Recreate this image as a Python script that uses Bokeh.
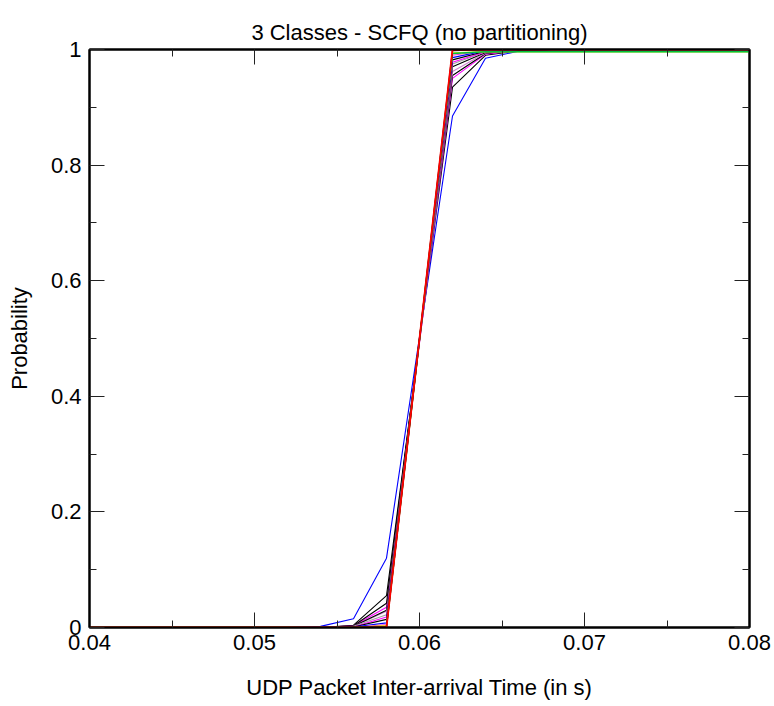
from bokeh.plotting import figure
from bokeh.models import LinearAxis, FixedTicker, Range1d
from bokeh.embed import file_html
from bokeh.resources import INLINE

# Shared x sample points (inter-arrival time in s)
x_vals = [0.040, 0.042, 0.044, 0.046, 0.048, 0.050, 0.052, 0.054, 0.056, 0.058,
          0.062, 0.064, 0.066, 0.068, 0.070, 0.072, 0.074, 0.076, 0.078, 0.080]

# CDF series (one per flow)
blue_a    = [0, 0, 0, 0, 0, 0, 0, 0.002, 0.015, 0.120, 0.885, 0.985, 0.997, 1, 1, 1, 1, 1, 1, 1]
black_a   = [0, 0, 0, 0, 0, 0, 0, 0.000, 0.004, 0.055, 0.935, 0.990, 0.998, 1, 1, 1, 1, 1, 1, 1]
magenta_a = [0, 0, 0, 0, 0, 0, 0, 0.000, 0.003, 0.035, 0.950, 0.992, 0.998, 1, 1, 1, 1, 1, 1, 1]
black_b   = [0, 0, 0, 0, 0, 0, 0, 0.000, 0.003, 0.042, 0.955, 0.993, 0.999, 1, 1, 1, 1, 1, 1, 1]
pink_a    = [0, 0, 0, 0, 0, 0, 0, 0.000, 0.002, 0.028, 0.962, 0.994, 0.999, 1, 1, 1, 1, 1, 1, 1]
black_c   = [0, 0, 0, 0, 0, 0, 0, 0.000, 0.002, 0.030, 0.970, 0.995, 0.999, 1, 1, 1, 1, 1, 1, 1]
gray_a    = [0, 0, 0, 0, 0, 0, 0, 0.000, 0.002, 0.022, 0.975, 0.996, 1.000, 1, 1, 1, 1, 1, 1, 1]
magenta_b = [0, 0, 0, 0, 0, 0, 0, 0.000, 0.001, 0.018, 0.978, 0.996, 1.000, 1, 1, 1, 1, 1, 1, 1]
black_d   = [0, 0, 0, 0, 0, 0, 0, 0.000, 0.001, 0.014, 0.982, 0.997, 1.000, 1, 1, 1, 1, 1, 1, 1]
blue_b    = [0, 0, 0, 0, 0, 0, 0, 0.000, 0.001, 0.008, 0.986, 0.998, 1.000, 1, 1, 1, 1, 1, 1, 1]
pink_b    = [0, 0, 0, 0, 0, 0, 0, 0.000, 0.000, 0.005, 0.990, 0.998, 1.000, 1, 1, 1, 1, 1, 1, 1]
yellow_a  = [0, 0, 0, 0, 0, 0, 0, 0.000, 0.000, 0.003, 0.994, 0.996, 0.996, 0.996, 0.996, 0.996, 0.996, 0.996, 0.996, 0.996]
green_a   = [0, 0, 0, 0, 0, 0, 0, 0.000, 0.000, 0.002, 0.993, 0.996, 0.996, 0.996, 0.996, 0.996, 0.996, 0.996, 0.996, 0.996]
black_e   = [0, 0, 0, 0, 0, 0, 0, 0.000, 0.000, 0.001, 0.998, 1.000, 1.000, 1, 1, 1, 1, 1, 1, 1]
red_a     = [0, 0, 0, 0, 0, 0, 0, 0.000, 0.000, 0.000, 1.000, 1.000, 1.000, 1, 1, 1, 1, 1, 1, 1]

series = [
    (blue_a, "#0000ff", 1.1),
    (black_a, "#000000", 1.1),
    (magenta_a, "#ff00ff", 1.1),
    (black_b, "#000000", 1.1),
    (pink_a, "#d080d0", 1.1),
    (black_c, "#000000", 1.1),
    (gray_a, "#a0a0a0", 1.1),
    (magenta_b, "#ff00ff", 1.1),
    (black_d, "#000000", 1.1),
    (blue_b, "#0000ff", 1.1),
    (pink_b, "#ff40c0", 1.1),
    (yellow_a, "#e0e000", 1.4),
    (green_a, "#00c040", 1.4),
    (black_e, "#000000", 1.4),
    (red_a, "#ff0000", 1.8),
]

x_ticks = [0.04, 0.05, 0.06, 0.07, 0.08]
x_tick_labels = ["0.04", "0.05", "0.06", "0.07", "0.08"]
y_ticks = [0, 0.2, 0.4, 0.6, 0.8, 1]
y_tick_labels = ["0", "0.2", "0.4", "0.6", "0.8", "1"]
x_minor = [0.045, 0.055, 0.065, 0.075]
y_minor = [0.1, 0.3, 0.5, 0.7, 0.9]

FONT = "Liberation Sans"
FS = "22px"

p = figure(width=774, height=706, output_backend="svg", toolbar_location=None,
           x_range=Range1d(0.04, 0.08), y_range=Range1d(0, 1),
           x_axis_location=None, y_axis_location=None,
           min_border_left=89, min_border_right=25, min_border_top=49, min_border_bottom=79,
           title="3 Classes - SCFQ (no partitioning)")
p.title.align = "center"
p.title.text_font = FONT
p.title.text_font_size = FS
p.title.text_font_style = "normal"
p.title.text_color = "black"
p.xgrid.visible = False
p.ygrid.visible = False
p.outline_line_color = "black"
p.outline_line_width = 2
p.background_fill_color = "white"
p.border_fill_color = "white"

for ys, col, w in series:
    p.line(x_vals, ys, line_color=col, line_width=w)


def style_axis(ax, ticks, minor, labels, show_labels):
    ax.ticker = FixedTicker(ticks=ticks, minor_ticks=minor)
    if show_labels:
        ax.major_label_overrides = {t: l for t, l in zip(ticks, labels)}
    else:
        ax.major_label_overrides = {t: "" for t in ticks}
        ax.major_label_standoff = 0
    ax.major_tick_in = 15
    ax.major_tick_out = 0
    ax.minor_tick_in = 7
    ax.minor_tick_out = 0
    ax.major_tick_line_color = "#222222"
    ax.minor_tick_line_color = "#222222"
    ax.axis_line_color = "black"
    ax.axis_line_width = 2
    ax.major_label_text_font = FONT
    ax.major_label_text_color = "black"
    ax.major_label_text_font_size = FS
    ax.axis_label_text_font = FONT
    ax.axis_label_text_font_style = "normal"
    ax.axis_label_text_font_size = FS
    ax.axis_label_text_color = "black"


xb = LinearAxis(axis_label="UDP Packet Inter-arrival Time (in s)")
style_axis(xb, x_ticks, x_minor, x_tick_labels, True)
xb.major_label_standoff = 7
xb.axis_label_standoff = 22
p.add_layout(xb, "below")

yl = LinearAxis(axis_label="Probability")
style_axis(yl, y_ticks, y_minor, y_tick_labels, True)
yl.major_label_standoff = 8
yl.axis_label_standoff = 16
p.add_layout(yl, "left")

xt = LinearAxis()
style_axis(xt, x_ticks, x_minor, x_tick_labels, False)
p.add_layout(xt, "above")

yr = LinearAxis()
style_axis(yr, y_ticks, y_minor, y_tick_labels, False)
p.add_layout(yr, "right")

open("out.html", "w").write(file_html(p, INLINE))
